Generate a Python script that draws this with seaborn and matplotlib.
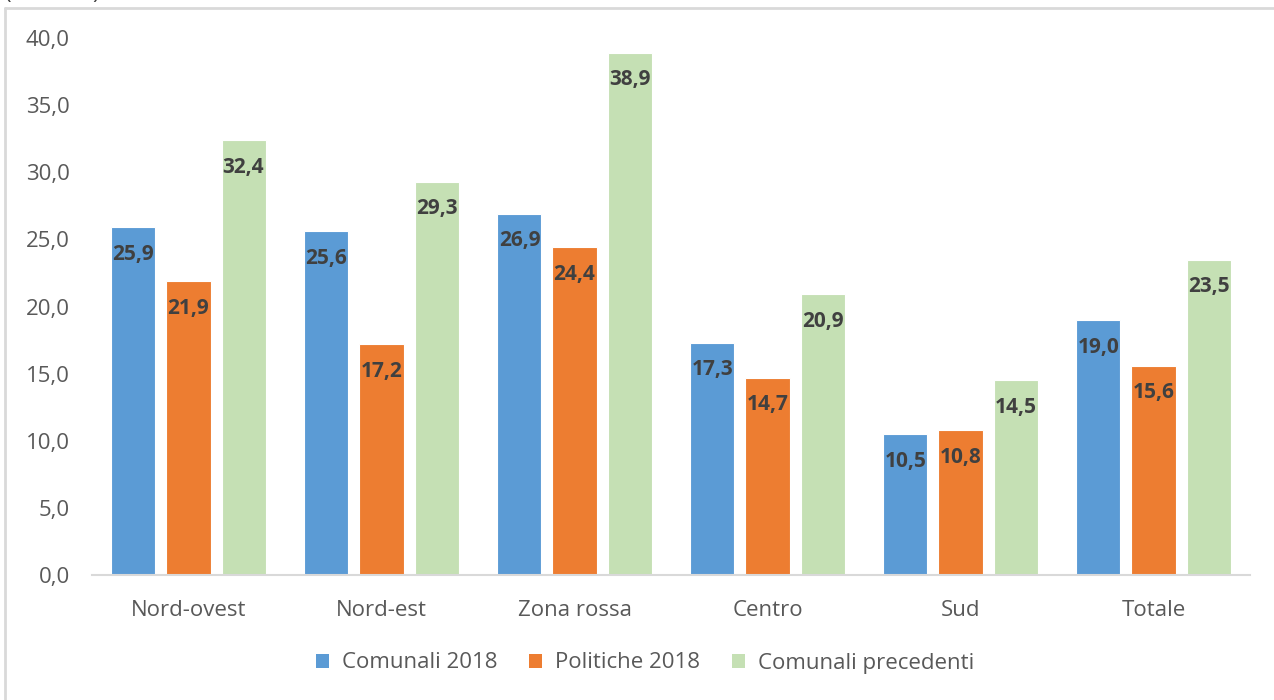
import pandas as pd
import seaborn as sns
import matplotlib.pyplot as plt
from matplotlib.patches import Patch
from matplotlib.lines import Line2D
from matplotlib.ticker import FuncFormatter

aree = ["Nord-ovest", "Nord-est", "Zona rossa", "Centro", "Sud", "Totale"]
serie = ["Comunali 2018", "Politiche 2018", "Comunali precedenti"]
comunali_2018 = [25.9, 25.6, 26.9, 17.3, 10.5, 19.0]
politiche_2018 = [21.9, 17.2, 24.4, 14.7, 10.8, 15.6]
comunali_prec = [32.4, 29.3, 38.9, 20.9, 14.5, 23.5]
colori = ["#5B9BD5", "#ED7D31", "#C5E0B4"]

valori = [comunali_2018, politiche_2018, comunali_prec]
rows = []
for s, vals in zip(serie, valori):
    for a, v in zip(aree, vals):
        rows.append({"area": a, "serie": s, "valore": v})
df = pd.DataFrame(rows)

sns.set_style("white")
plt.rcParams['font.family'] = ['Open Sans', 'DejaVu Sans']

fig = plt.figure(figsize=(12.74, 7), dpi=100)
ax = fig.add_axes([92 / 1274, 1 - 575 / 700, (1250 - 92) / 1274, (575 - 38) / 700])

sns.barplot(data=df, x="area", y="valore", hue="serie", palette=colori,
            width=0.855, gap=0.2, edgecolor="white", linewidth=0.8,
            saturation=1, legend=False, ax=ax)

for cont, vals in zip(ax.containers, valori):
    for bar, v in zip(cont, vals):
        ax.annotate(f"{v:.1f}".replace(".", ","),
                    (bar.get_x() + bar.get_width() / 2, bar.get_height()),
                    xytext=(0, -19.5), textcoords="offset points",
                    ha="center", va="center", fontsize=15, fontweight="bold",
                    color="#404040")

ax.set_ylim(0, 40)
ax.set_yticks(range(0, 41, 5))
ax.yaxis.set_major_formatter(FuncFormatter(lambda v, p: f"{v:.1f}".replace(".", ",")))
ax.set_xlim(-0.5, 5.5)
ax.set_xlabel("")
ax.set_ylabel("")
ax.tick_params(axis="both", length=0, labelsize=16, labelcolor="#595959")
ax.tick_params(axis="y", pad=16)
ax.tick_params(axis="x", pad=18)
for sp in ["top", "right", "left"]:
    ax.spines[sp].set_visible(False)
ax.spines["bottom"].set_color("#D9D9D9")
ax.spines["bottom"].set_linewidth(1.5)

handles = [Patch(facecolor=c, edgecolor="none") for c in colori]
fig.legend(handles, serie, loc="center", bbox_to_anchor=(645 / 1274, 1 - 663 / 700),
           ncol=3, frameon=False, fontsize=16, handlelength=0.6, handleheight=0.6,
           handletextpad=0.6, columnspacing=1.4, labelcolor="#595959")

# cornice grigia del riquadro
fig.add_artist(Line2D([5 / 1274, 5 / 1274], [0, 1 - 8 / 700], color="#D9D9D9", lw=2))
fig.add_artist(Line2D([5 / 1274, 1], [1 - 8 / 700, 1 - 8 / 700], color="#D9D9D9", lw=2))
fig.text(5 / 1274, 1 + 6 / 700, "(valori %)", fontsize=16, color="#404040",
         ha="left", va="center")

fig.savefig("out.png", dpi=100)
